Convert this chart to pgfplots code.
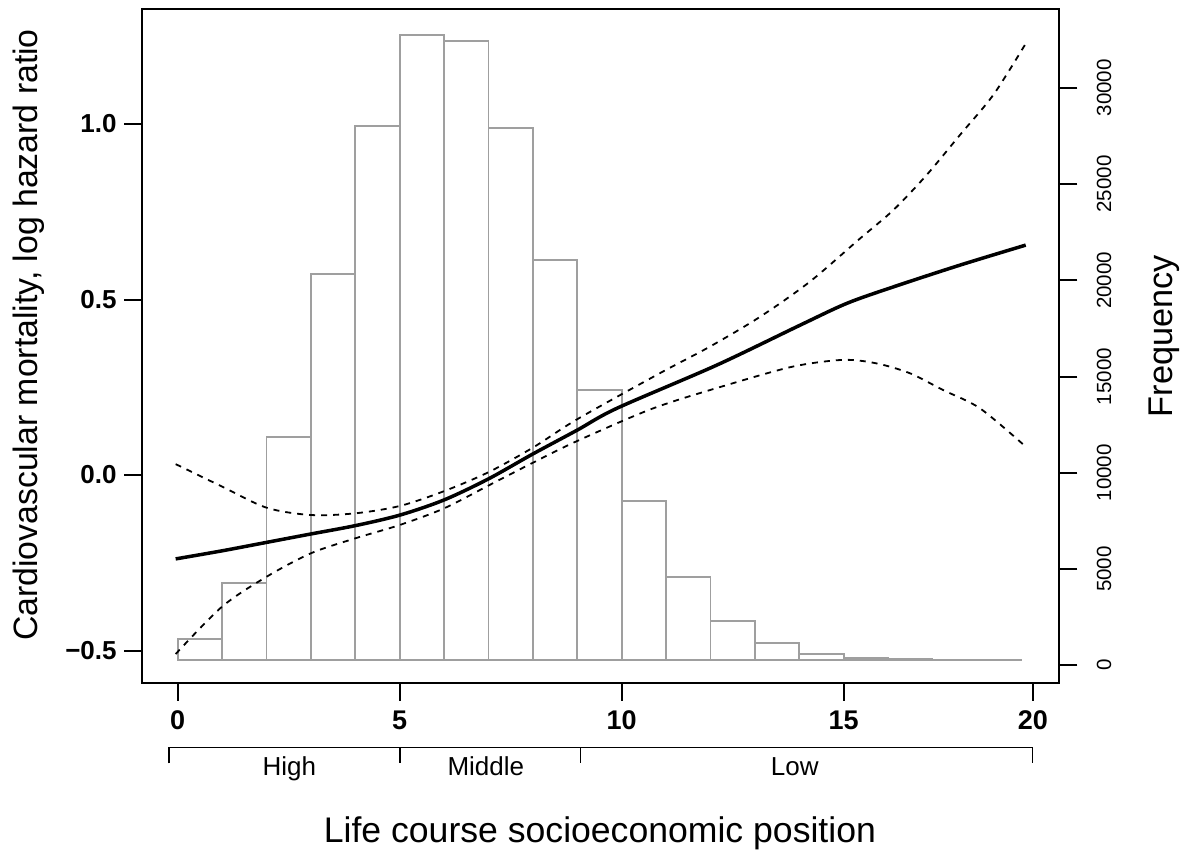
\documentclass[border=0pt]{standalone}
\usepackage{fontspec}
\setmainfont{Liberation Sans}
\usepackage{pgfplots}
\pgfplotsset{compat=1.18}

\begin{document}
\begin{tikzpicture}
\pgfplotsset{
  every axis/.append style={
    scale only axis, width=458.5pt, height=336.7pt,
    xmin=-0.797, xmax=19.856,
    tick align=outside, major tick length=9pt,
    every tick/.style={black, line width=1pt},
    axis line style={line width=1pt},
    /pgf/number format/assume math mode=true,
  }
}
% histogram on the right-hand axis
\begin{axis}[
  ymin=-1179, ymax=33803,
  axis x line=none, axis y line*=right,
  scaled y ticks=false,
  ytick={-275,4725,9725,14725,19725,24725,29725},
  yticklabels={0,5000,10000,15000,20000,25000,30000},
  yticklabel style={xshift=13.35pt, rotate=90, anchor=center,
    font=\fontsize{10.25}{12}\selectfont},
  clip=false,
]
\addplot[ybar interval, fill=white, draw=gray!75, line width=0.9pt] coordinates {
  (0,1075) (1,4016) (2,11584) (3,20052) (4,27756) (5,32452) (6,32171)
  (7,27652) (8,20764) (9,14026) (10,8260) (11,4327) (12,2042) (13,899)
  (14,327) (15,119) (16,68) (17,26) (18,15) (19,15)};
\node[xshift=52.5pt, yshift=5pt, rotate=90, anchor=center,
  font=\fontsize{17.15}{20}\selectfont] at (rel axis cs:1,0.5) {Frequency};
\end{axis}

% spline and confidence limits on the left-hand axis
\begin{axis}[
  ymin=-0.5917, ymax=1.3268,
  xtick pos=left, ytick pos=left,
  xtick={0,5,10,15,19.26},
  xticklabels={0,5,10,15,20},
  ytick={-0.5,0,0.5,1},
  yticklabels={−0.5,0.0,0.5,1.0},
  xticklabel style={anchor=base, inner sep=0pt, yshift=-14.35pt,
    font=\fontsize{13.5}{15}\bfseries\selectfont},
  yticklabel style={anchor=east, inner sep=0pt, xshift=-3.65pt,
    font=\fontsize{13}{15}\bfseries\selectfont},
  clip=false,
]
\addplot[black, line width=1.75pt, smooth, tension=0.5] coordinates {
  (-0.045,-0.239) (1.0,-0.216) (2.0,-0.192) (3.0,-0.168) (4.01,-0.144)
  (5.01,-0.114) (6.0,-0.071) (7.0,-0.011) (8.0,0.060) (9.0,0.128)
  (9.89,0.190) (12.14,0.313) (14.02,0.427) (15.07,0.489) (16.12,0.536)
  (17.62,0.598) (19.10,0.655)};
\addplot[black, line width=0.9pt, dash pattern=on 3pt off 3pt, smooth, tension=0.5] coordinates {
  (-0.045,0.031) (1.0,-0.033) (2.0,-0.093) (3.0,-0.114) (4.01,-0.109)
  (5.01,-0.088) (6.0,-0.046) (7.0,0.008) (8.0,0.078) (9.0,0.159)
  (10.86,0.290) (11.99,0.366) (13.12,0.451) (14.24,0.551) (15.37,0.674)
  (16.12,0.755) (16.87,0.855) (17.62,0.969) (18.37,1.083) (19.08,1.225)};
\addplot[black, line width=0.9pt, dash pattern=on 3pt off 3pt, smooth, tension=0.5] coordinates {
  (-0.045,-0.510) (1.0,-0.375) (2.0,-0.290) (3.0,-0.223) (4.01,-0.180)
  (5.01,-0.142) (6.0,-0.095) (7.0,-0.030) (8.0,0.035) (9.0,0.097)
  (10.71,0.190) (12.36,0.256) (13.86,0.309) (14.99,0.328) (15.74,0.318)
  (16.49,0.290) (17.24,0.242) (18.07,0.190) (19.08,0.083)};
% socioeconomic groups below the axis
\draw[line width=0.7pt] (axis cs:-0.196,-0.8214) -- (axis cs:-0.196,-0.7758)
  -- (axis cs:19.257,-0.7758) -- (axis cs:19.257,-0.8214);
\draw[line width=0.7pt] (axis cs:5.007,-0.7758) -- (axis cs:5.007,-0.8214);
\draw[line width=0.7pt] (axis cs:9.077,-0.7758) -- (axis cs:9.077,-0.8214);
\node[anchor=base, font=\fontsize{13}{15}\selectfont] at (axis cs:2.513,-0.8547) {High};
\node[anchor=base, font=\fontsize{13}{15}\selectfont] at (axis cs:6.94,-0.8547) {Middle};
\node[anchor=base, font=\fontsize{13}{15}\selectfont] at (axis cs:13.9,-0.8547) {Low};
\node[anchor=base, font=\fontsize{17.8}{20}\selectfont] at (axis cs:9.51,-1.0484)
  {Life course socioeconomic position};
\node[xshift=-56.65pt, yshift=5.5pt, rotate=90, anchor=center,
  font=\fontsize{16.9}{20}\selectfont] at (rel axis cs:0,0.5)
  {Cardiovascular mortality, log hazard ratio};
\path (axis cs:-4.002,-1.0655) rectangle (axis cs:22.89,1.3533);
\end{axis}
\end{tikzpicture}
\end{document}
